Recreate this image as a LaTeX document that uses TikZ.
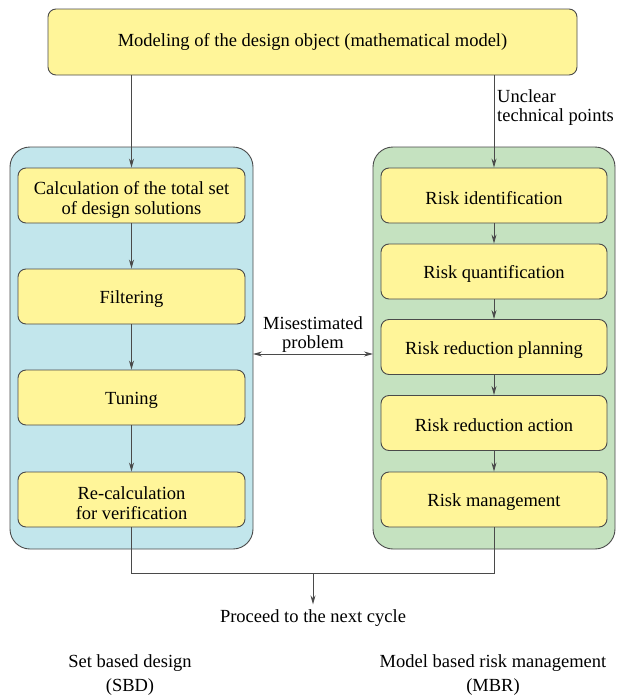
\documentclass[tikz,border=0pt]{standalone}
\usepackage{fontspec}
\setmainfont{Liberation Serif}
\usetikzlibrary{arrows.meta}
\definecolor{boxyellow}{HTML}{FFF599}
\definecolor{sbdblue}{HTML}{C2E6EC}
\definecolor{mbrgreen}{HTML}{C5E2C0}
\definecolor{edge}{HTML}{4A4A4A}
\tikzset{
  stepbox/.style={draw=edge, line width=0.9pt, fill=boxyellow, rounded corners=8pt,
    align=center, inner sep=0pt, font=\fontsize{18.5}{20}\selectfont},
  lowered/.style={execute at begin node={\rule{0pt}{18pt}}},
  lowered2/.style={execute at begin node={\rule{0pt}{41pt}}},
  lbox/.style={stepbox, lowered, minimum width=227pt, minimum height=55pt},
  rbox/.style={stepbox, lowered, minimum width=226pt, minimum height=55pt},
  container/.style={draw=edge, line width=0.9pt, rounded corners=20pt},
  conn/.style={draw=edge, line width=0.9pt},
  arr/.style={conn, -{Stealth[length=9pt,width=5pt]}},
  plain/.style={align=center, inner sep=0pt, font=\fontsize{18.5}{19}\selectfont},
  caption/.style={align=center, inner sep=0pt, font=\fontsize{18.5}{24}\selectfont},
}
\begin{document}
\begin{tikzpicture}[x=1pt,y=-1pt]
\useasboundingbox (0,0) rectangle (617,696);
% containers
\draw[container, fill=sbdblue] (10,147) rectangle (253,549);
\draw[container, fill=mbrgreen] (373,147) rectangle (615,549);
\coordinate (lc) at (253,354);
\coordinate (rc) at (373,354);
% top
\node[stepbox, minimum width=529pt, minimum height=66pt] (top) at (312.5,42) {Modeling of the design object (mathematical model)};
% left
\node[lbox, lowered2] (l1) at (131.5,195.5) {Calculation of the total set\\of design solutions};
\node[lbox] (l2) at (131.5,296.5) {Filtering};
\node[lbox] (l3) at (131.5,397.5) {Tuning};
\node[lbox, lowered2] (l4) at (131.5,499.5) {Re-calculation\\for verification};
% right
\node[rbox] (r1) at (494,195.5) {Risk identification};
\node[rbox] (r2) at (494,271.5) {Risk quantification};
\node[rbox] (r3) at (494,347) {Risk reduction planning};
\node[rbox] (r4) at (494,423) {Risk reduction action};
\node[rbox] (r5) at (494,499.5) {Risk management};
% arrows
\draw[arr] (top.south -| l1) -- (l1);
\draw[arr] (top.south -| r1) -- (r1);
\node[plain, align=left, anchor=west] (unc) at (497,108) {Unclear\\technical points};
\draw[arr] (l1) -- (l2);
\draw[arr] (l2) -- (l3);
\draw[arr] (l3) -- (l4);
\draw[arr] (r1) -- (r2);
\draw[arr] (r2) -- (r3);
\draw[arr] (r3) -- (r4);
\draw[arr] (r4) -- (r5);
% double arrow
\draw[conn, {Stealth[length=9pt,width=5pt]}-{Stealth[length=9pt,width=5pt]}] (lc) -- (rc);
\node[plain] (mis) at (313,335) {Misestimated\\problem};
% join
\coordinate (j) at (313,573);
\node[plain] (next) at (313,618) {Proceed to the next cycle};
\draw[conn] (l4.south) |- (j);
\draw[conn] (r5.south) |- (j);
\draw[arr, shorten >=5pt] (j) -- (next.north);
% captions
\node[caption] (sbd) at (130,675) {Set based design\\(SBD)};
\node[caption] (mbr) at (493,675) {Model based risk management\\(MBR)};
\end{tikzpicture}
\end{document}
